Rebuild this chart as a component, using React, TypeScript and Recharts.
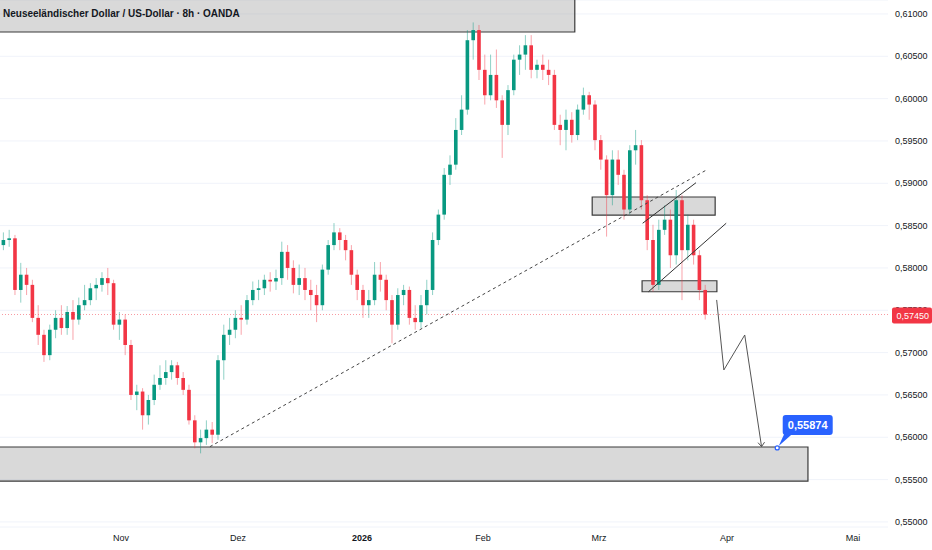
import React from "react";
import {
  ComposedChart,
  Bar,
  XAxis,
  YAxis,
  CartesianGrid,
  ReferenceArea,
  ReferenceLine,
  ReferenceDot,
} from "recharts";

const GREEN = "#089981";
const RED = "#F23645";
const BLUE = "#2962FF";
const INK = "#131722";
const FONT = "'Liberation Sans', Arial, sans-serif";

// daily candles, NZD/USD (Oct 2025 - Mar 2026)
const opens = [
  0.5827, 0.5833, 0.5835, 0.5774, 0.5792, 0.578, 0.5741, 0.5721, 0.5697, 0.5727,
  0.5741, 0.5729, 0.5748, 0.5739, 0.5756, 0.5762, 0.5776, 0.578, 0.5788, 0.5782,
  0.5733, 0.5739, 0.5709, 0.565, 0.5654, 0.5626, 0.5644, 0.5662, 0.567, 0.5677,
  0.5685, 0.567, 0.5656, 0.562, 0.5594, 0.5599, 0.5609, 0.5603, 0.5691, 0.5721,
  0.5727, 0.5741, 0.5739, 0.5762, 0.5774, 0.5776, 0.5786, 0.5784, 0.5788, 0.5819,
  0.58, 0.578, 0.5788, 0.5774, 0.5768, 0.5756, 0.5798, 0.5827, 0.5842, 0.5833,
  0.5821, 0.5792, 0.5774, 0.5756, 0.5762, 0.5792, 0.5786, 0.5762, 0.5733, 0.5768,
  0.5774, 0.5741, 0.5736, 0.5756, 0.5774, 0.5833, 0.5863, 0.591, 0.5922, 0.5963,
  0.5987, 0.6069, 0.6081, 0.6034, 0.6004, 0.6028, 0.5998, 0.5969, 0.601, 0.6046,
  0.6052, 0.6063, 0.6034, 0.604, 0.6034, 0.6028, 0.5969, 0.5963, 0.5975, 0.5957,
  0.5987, 0.6004, 0.5993, 0.5951, 0.5928, 0.5886, 0.5928, 0.591, 0.5869, 0.5939,
  0.5945, 0.588, 0.5833, 0.578, 0.5845, 0.5857, 0.5815, 0.588, 0.5821, 0.5851,
  0.5815, 0.5774,
];
const highs = [
  0.5842, 0.5845, 0.5839, 0.5806, 0.58, 0.5786, 0.5756, 0.5727, 0.5733, 0.575,
  0.5756, 0.5755, 0.5762, 0.5765, 0.578, 0.5782, 0.5788, 0.5795, 0.58, 0.5786,
  0.5748, 0.5745, 0.5715, 0.5662, 0.5658, 0.565, 0.5674, 0.5685, 0.5691, 0.5691,
  0.5689, 0.5677, 0.5662, 0.5626, 0.5609, 0.562, 0.5618, 0.5697, 0.5733, 0.5741,
  0.575, 0.5756, 0.5768, 0.5784, 0.5786, 0.5792, 0.5795, 0.5798, 0.5831, 0.5827,
  0.5809, 0.5804, 0.58, 0.5786, 0.578, 0.5804, 0.5833, 0.5853, 0.5847, 0.5839,
  0.5827, 0.5798, 0.578, 0.5774, 0.5807, 0.5807, 0.5792, 0.5768, 0.5776, 0.578,
  0.5778, 0.5756, 0.5768, 0.5786, 0.5842, 0.5869, 0.5918, 0.5933, 0.5977, 0.6004,
  0.6081, 0.609, 0.6087, 0.6052, 0.6052, 0.6058, 0.6004, 0.6016, 0.6052, 0.6063,
  0.6075, 0.6075, 0.6046, 0.6052, 0.6046, 0.6034, 0.5981, 0.5987, 0.5984, 0.5993,
  0.6013, 0.6008, 0.5998, 0.5957, 0.5933, 0.5939, 0.5939, 0.5916, 0.5945, 0.5963,
  0.5951, 0.5886, 0.5851, 0.5857, 0.5874, 0.5869, 0.5892, 0.5886, 0.5863, 0.5857,
  0.5821, 0.578,
];
const lows = [
  0.5821, 0.5825, 0.5768, 0.5759, 0.5768, 0.5736, 0.5709, 0.5689, 0.5691, 0.5717,
  0.5721, 0.5721, 0.5715, 0.5733, 0.575, 0.5756, 0.5762, 0.5772, 0.5768, 0.5727,
  0.5715, 0.5697, 0.5644, 0.5632, 0.5609, 0.5615, 0.5638, 0.5656, 0.5662, 0.5668,
  0.5662, 0.565, 0.5615, 0.5587, 0.5581, 0.5591, 0.5593, 0.5597, 0.5668, 0.5709,
  0.5717, 0.5721, 0.5733, 0.5756, 0.5762, 0.5768, 0.5772, 0.5774, 0.578, 0.5786,
  0.577, 0.5768, 0.5762, 0.575, 0.5736, 0.575, 0.5792, 0.5821, 0.5821, 0.5809,
  0.578, 0.5762, 0.5741, 0.5741, 0.5756, 0.5772, 0.575, 0.5711, 0.5727, 0.5756,
  0.5733, 0.5727, 0.5729, 0.5745, 0.5768, 0.5827, 0.5857, 0.5898, 0.5916, 0.5957,
  0.5981, 0.6046, 0.6022, 0.5993, 0.5998, 0.5989, 0.593, 0.5957, 0.6004, 0.6028,
  0.6034, 0.6024, 0.6024, 0.6022, 0.6016, 0.5963, 0.5945, 0.5939, 0.5948, 0.5951,
  0.5981, 0.5975, 0.5939, 0.5916, 0.5837, 0.5874, 0.5898, 0.5857, 0.5863, 0.5922,
  0.5869, 0.5821, 0.5772, 0.5774, 0.5839, 0.58, 0.5804, 0.5762, 0.5809, 0.5804,
  0.5762, 0.5739,
];
const closes = [
  0.5833, 0.5835, 0.5774, 0.5792, 0.578, 0.5741, 0.5721, 0.5697, 0.5727, 0.5741,
  0.5729, 0.5748, 0.5739, 0.5756, 0.5762, 0.5776, 0.578, 0.5788, 0.5782, 0.5733,
  0.5739, 0.5709, 0.565, 0.5654, 0.5626, 0.5644, 0.5662, 0.567, 0.5677, 0.5685,
  0.567, 0.5656, 0.562, 0.5594, 0.5599, 0.5609, 0.5603, 0.5691, 0.5721, 0.5727,
  0.5741, 0.5739, 0.5762, 0.5774, 0.5776, 0.5786, 0.5784, 0.5788, 0.5819, 0.58,
  0.578, 0.5788, 0.5774, 0.5768, 0.5756, 0.5798, 0.5827, 0.5842, 0.5833, 0.5821,
  0.5792, 0.5774, 0.5756, 0.5762, 0.5792, 0.5786, 0.5762, 0.5733, 0.5768, 0.5774,
  0.5741, 0.5736, 0.5756, 0.5774, 0.5833, 0.5863, 0.591, 0.5922, 0.5963, 0.5987,
  0.6069, 0.6081, 0.6034, 0.6004, 0.6028, 0.5998, 0.5969, 0.601, 0.6046, 0.6052,
  0.6063, 0.6034, 0.604, 0.6034, 0.6028, 0.5969, 0.5963, 0.5975, 0.5957, 0.5987,
  0.6004, 0.5993, 0.5951, 0.5928, 0.5886, 0.5928, 0.591, 0.5869, 0.5939, 0.5945,
  0.588, 0.5833, 0.578, 0.5845, 0.5857, 0.5815, 0.588, 0.5821, 0.5851, 0.5815,
  0.5774, 0.5745,
];

// time axis (bar index) and month labels
const monthTicks = [20.26, 40.43, 61.81, 82.68, 102.68, 124.74, 146.47];
const monthLabels = ["Nov", "Dez", "2026", "Feb", "Mrz", "Apr", "Mai"];
const priceTicks = [
  0.55, 0.555, 0.56, 0.565, 0.57, 0.575, 0.58, 0.585, 0.59, 0.595, 0.6, 0.605, 0.61,
];
const lastPrice = 0.5745;
const coveredTick = 0.575; // axis label that sits under the price tag
const targetPrice = 0.55874;

// drawings
const trendLine = [
  { x: 35.6, y: 0.55889 },
  { x: 121.2, y: 0.59157 },
];
const channelUpper = [
  { x: 110.2, y: 0.58528 },
  { x: 119.4, y: 0.59007 },
];
const channelLower = [
  { x: 111.2, y: 0.57719 },
  { x: 124.6, y: 0.58528 },
];
const pathX = [122.96, 124.2, 127.8, 130.7];
const pathY = [0.57622, 0.56795, 0.57208, 0.55889];

const data = closes.map((c, i) => ({
  i,
  o: opens[i],
  h: highs[i],
  l: lows[i],
  c,
  range: [lows[i], highs[i]],
}));

const fmt = (v: number) => v.toFixed(5).replace(".", ",");

const Candle = (props: any) => {
  const { x, y, width, height, payload } = props;
  if (x == null || y == null) return null;
  const { o, h, l, c } = payload;
  const top = Math.min(y, y + height);
  const len = Math.abs(height);
  const span = h - l || 1e-9;
  const py = (v: number) => top + ((h - v) / span) * len;
  const col = c >= o ? GREEN : RED;
  const cx = x + width / 2;
  const bTop = py(Math.max(o, c));
  const bBot = py(Math.min(o, c));
  return (
    <g>
      <line x1={cx} x2={cx} y1={top} y2={top + len} stroke={col} strokeOpacity={0.45} strokeWidth={1} />
      <rect x={x} y={bTop} width={width} height={Math.max(1, bBot - bTop)} fill={col} />
    </g>
  );
};

const MonthTick = (props: any) => {
  const { x, y, payload } = props;
  const idx = monthTicks.indexOf(payload.value);
  const label = monthLabels[idx] ?? "";
  return (
    <text
      x={x}
      y={y}
      dy={8}
      textAnchor="middle"
      fontSize={9}
      fontFamily={FONT}
      fontWeight={label === "2026" ? 700 : 400}
      fill={INK}
    >
      {label}
    </text>
  );
};

// y tick; the covered one is drawn by a reference line so the tag can sit above it
const PriceTick = (props: any) => {
  const { x, y, payload } = props;
  if (Math.abs(payload.value - coveredTick) < 1e-9) return null;
  return (
    <text x={x} y={y} dy="0.35em" fontSize={9} fontFamily={FONT} fill={INK}>
      {fmt(payload.value)}
    </text>
  );
};

const CoveredLabel = (props: any) => {
  const vb = props.viewBox || {};
  const right = (vb.x ?? 0) + (vb.width ?? 0);
  return (
    <text x={right + 7} y={vb.y ?? 0} dy="0.35em" fontSize={9} fontFamily={FONT} fill={INK}>
      {fmt(coveredTick)}
    </text>
  );
};

const PriceTag = (props: any) => {
  const vb = props.viewBox || {};
  const right = (vb.x ?? 0) + (vb.width ?? 0);
  const cy = vb.y ?? 0;
  return (
    <g>
      <rect x={right + 4} y={cy - 7} width={40} height={16} rx={2} fill={RED} />
      <text x={right + 8.5} y={cy + 1} dy="0.35em" fontSize={9} fontFamily={FONT} fill="#fff">
        {fmt(lastPrice)}
      </text>
    </g>
  );
};

const TargetCallout = (props: any) => {
  const { cx, cy } = props;
  if (cx == null) return null;
  return (
    <g>
      <polygon points={`${cx + 7},${cy - 14} ${cx + 15},${cy - 14} ${cx + 1.5},${cy - 2}`} fill={BLUE} />
      <rect x={cx + 5.5} y={cy - 33} width={50} height={20} rx={3} fill={BLUE} />
      <text
        x={cx + 30.5}
        y={cy - 23}
        dy="0.35em"
        textAnchor="middle"
        fontSize={11}
        fontWeight={700}
        fontFamily={FONT}
        fill="#fff"
      >
        {fmt(targetPrice)}
      </text>
      <circle cx={cx} cy={cy} r={2} fill="#fff" stroke={BLUE} strokeWidth={1.2} />
    </g>
  );
};

const ArrowHead = (props: any) => {
  const { cx, cy } = props;
  if (cx == null) return null;
  return (
    <path
      d={`M${cx - 3.5},${cy - 4} L${cx},${cy} L${cx + 3},${cy - 4.5}`}
      stroke="#555"
      strokeWidth={1}
      fill="none"
    />
  );
};

const boxStyle = {
  fill: "#a0a0a0",
  fillOpacity: 0.4,
  stroke: "#3a3a3a",
  strokeWidth: 1.2,
  ifOverflow: "hidden" as const,
};

export default function App() {
  return (
    <div style={{ position: "relative", width: 932, height: 550, background: "#fff" }}>
      <style>{`body{margin:0}`}</style>
      <ComposedChart
        width={932}
        height={550}
        data={data}
        margin={{ top: 0, right: 0, bottom: 0, left: 0 }}
      >
        <CartesianGrid vertical={false} stroke="#f0f3fa" />
        <XAxis
          dataKey="i"
          type="number"
          domain={[-0.6, 152.5]}
          allowDataOverflow
          ticks={monthTicks}
          interval={0}
          height={23}
          axisLine={false}
          tickLine={false}
          tickSize={0}
          tickMargin={6}
          tick={<MonthTick />}
        />
        <YAxis
          orientation="right"
          type="number"
          domain={[0.5494, 0.61165]}
          allowDataOverflow
          ticks={priceTicks}
          interval={0}
          width={44}
          axisLine={false}
          tickLine={false}
          tickSize={0}
          tickMargin={7}
          tick={<PriceTick />}
        />
        <ReferenceLine y={coveredTick} stroke="none" label={<CoveredLabel />} />
        <ReferenceLine
          y={lastPrice}
          stroke={RED}
          strokeOpacity={0.5}
          strokeDasharray="1 2"
          label={<PriceTag />}
        />
        <Bar dataKey="range" barSize={3.6} shape={<Candle />} isAnimationActive={false} />
        <ReferenceArea x1={-5} x2={98.5} y1={0.62} y2={0.60787} {...boxStyle} />
        <ReferenceArea x1={-5} x2={138.7} y1={0.55885} y2={0.55483} {...boxStyle} />
        <ReferenceArea x1={101.5} x2={122.7} y1={0.58838} y2={0.58625} {...boxStyle} />
        <ReferenceArea x1={110.1} x2={123.0} y1={0.57849} y2={0.57719} {...boxStyle} />
        <ReferenceLine segment={trendLine} stroke="#444" strokeWidth={1} strokeDasharray="3 3" />
        <ReferenceLine segment={channelUpper} stroke="#333" strokeWidth={1} />
        <ReferenceLine segment={channelLower} stroke="#333" strokeWidth={1} />
        {pathX.slice(1).map((x, k) => (
          <ReferenceLine
            key={k}
            segment={[
              { x: pathX[k], y: pathY[k] },
              { x, y: pathY[k + 1] },
            ]}
            stroke="#555"
            strokeWidth={1}
          />
        ))}
        <ReferenceDot x={pathX[3]} y={pathY[3]} r={0} shape={<ArrowHead />} />
        <ReferenceDot x={133.4} y={targetPrice} r={2} shape={<TargetCallout />} />
      </ComposedChart>
      <div
        style={{
          position: "absolute",
          left: 3,
          top: 8,
          fontFamily: FONT,
          fontSize: 10,
          fontWeight: 600,
          color: INK,
          whiteSpace: "nowrap",
          lineHeight: "12px",
        }}
      >
        Neuseeländischer Dollar / US-Dollar · 8h · OANDA
      </div>
    </div>
  );
}
